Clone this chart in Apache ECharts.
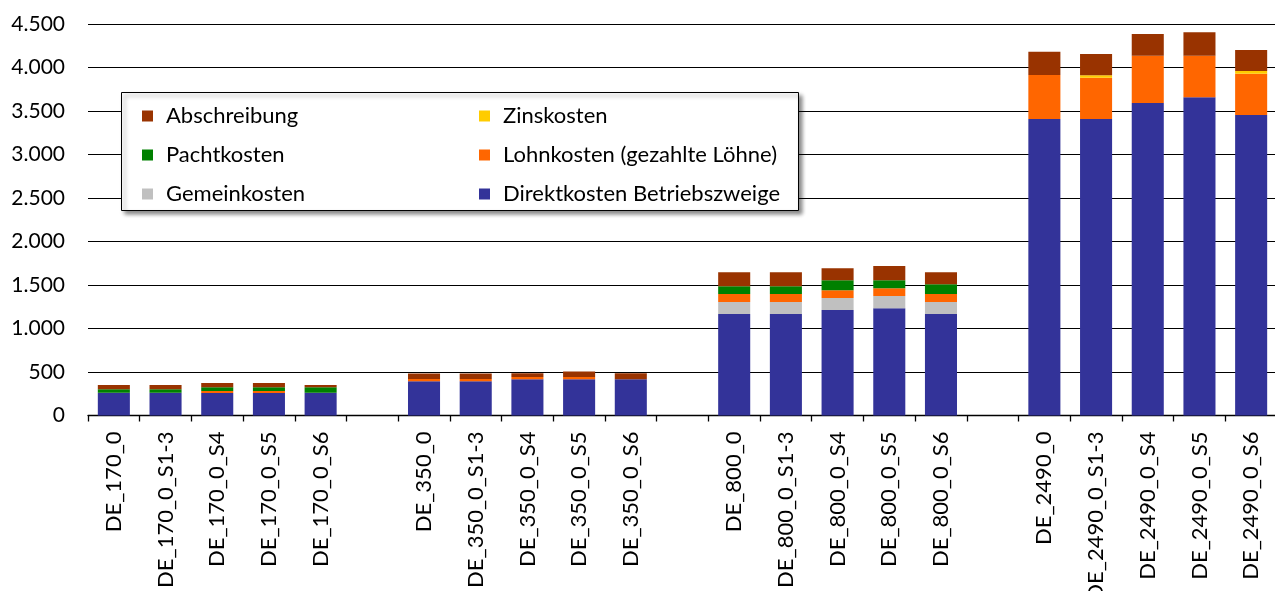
<!DOCTYPE html>
<html>
<head>
<meta charset="utf-8">
<script src="https://cdn.jsdelivr.net/npm/echarts@6/dist/echarts.min.js"></script>
<style>
html,body{margin:0;padding:0;background:#fff;}
#chart{width:1275px;height:591px;}
</style>
</head>
<body>
<div id="chart"></div>
<script>
const categories = [
  'DE_170_0','DE_170_0_S1-3','DE_170_0_S4','DE_170_0_S5','DE_170_0_S6',' ',
  'DE_350_0','DE_350_0_S1-3','DE_350_0_S4','DE_350_0_S5','DE_350_0_S6','  ',
  'DE_800_0','DE_800_0_S1-3','DE_800_0_S4','DE_800_0_S5','DE_800_0_S6','   ',
  'DE_2490_0','DE_2490_0_S1-3','DE_2490_0_S4','DE_2490_0_S5','DE_2490_0_S6'
];
const yTicks = [0,500,1000,1500,2000,2500,3000,3500,4000,4500];

const direktkosten = [262,262,258,258,262,null, 393,393,416,416,416,null, 1167,1167,1213,1232,1167,null, 3408,3408,3592,3657,3454];
const gemeinkosten = [0,0,0,0,0,null, 0,0,0,0,0,null, 138,138,138,142,138,null, 0,0,0,0,0];
const lohnkosten   = [0,0,23,23,0,null, 26,26,26,26,0,null, 92,92,88,88,92,null, 506,475,544,479,475];
const pachtkosten  = [39,39,43,43,62,null, 0,0,0,0,0,null, 88,88,115,92,111,null, 0,0,0,0,0];
const zinskosten   = [0,0,0,0,0,null, 0,0,0,0,0,null, 0,0,0,0,0,null, 0,27,0,0,31];
const abschreibung = [49,49,50,50,26,null, 65,65,43,65,69,null, 161,161,138,164,138,null, 268,245,249,268,241];

const FONT = 'Lato';
const chart = echarts.init(document.getElementById('chart'), null, {renderer:'canvas'});

function bar(name, data, color){
  return {name, type:'bar', stack:'total', data, barCategoryGap:'38%',
    itemStyle:{color}, emphasis:{disabled:true}};
}

const legendText = {fontSize:22, color:'#000', fontFamily:FONT, lineHeight:24, padding:[0,0,0,8]};

chart.setOption({
  animation:false,
  textStyle:{fontFamily:FONT},
  grid:{left:88, right:-2, top:24, bottom:175.5, containLabel:false, outerBoundsMode:'none'},
  xAxis:{
    type:'category', data:categories,
    axisLine:{show:true, lineStyle:{color:'#000', width:1.3}},
    axisTick:{show:true, interval:0, length:6, lineStyle:{color:'#000', width:1.3}},
    axisLabel:{interval:0, rotate:90, margin:16, fontSize:22, color:'#000', fontFamily:FONT}
  },
  yAxis:{
    type:'value', min:yTicks[0], max:yTicks[yTicks.length-1], interval:500,
    axisLine:{show:false}, axisTick:{show:false},
    splitLine:{show:true, lineStyle:{color:'#000', width:1.2}},
    axisLabel:{margin:23, fontSize:21, color:'#000', fontFamily:FONT,
      formatter:v=>String(v).replace(/\B(?=(\d{3})+(?!\d))/g,'.')}
  },
  graphic:[{
    type:'rect', z:3, left:121, top:92,
    shape:{width:677, height:118},
    style:{fill:'#fff', stroke:'#000', lineWidth:1,
      shadowBlur:4, shadowOffsetX:3, shadowOffsetY:3, shadowColor:'rgba(0,0,0,0.45)'}
  }],
  legend:[
    {data:['Abschreibung','Pachtkosten','Gemeinkosten'], orient:'vertical', left:137, top:99,
     itemWidth:11, itemHeight:11, itemGap:15, icon:'rect', z:5, textStyle:legendText},
    {data:['Zinskosten','Lohnkosten (gezahlte Löhne)','Direktkosten Betriebszweige'], orient:'vertical', left:474, top:99,
     itemWidth:11, itemHeight:11, itemGap:15, icon:'rect', z:5, textStyle:legendText}
  ],
  series:[
    bar('Direktkosten Betriebszweige', direktkosten, '#333399'),
    bar('Gemeinkosten', gemeinkosten, '#C0C0C0'),
    bar('Lohnkosten (gezahlte Löhne)', lohnkosten, '#FF6600'),
    bar('Pachtkosten', pachtkosten, '#008000'),
    bar('Zinskosten', zinskosten, '#FFCC00'),
    bar('Abschreibung', abschreibung, '#993300')
  ]
});
</script>
</body>
</html>
